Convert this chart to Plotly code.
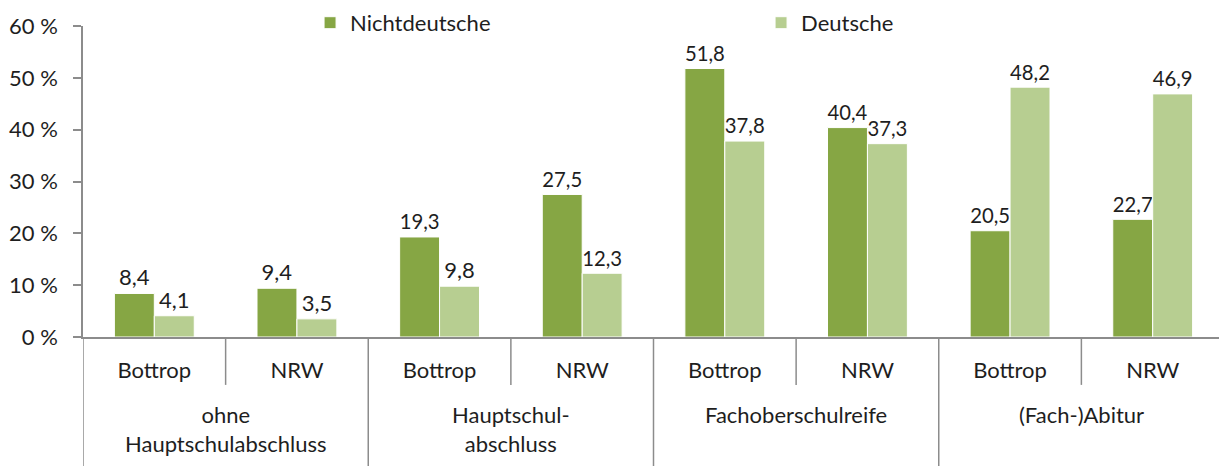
import plotly.graph_objects as go

groups = ["ohne<br>Hauptschulabschluss", "Hauptschul-<br>abschluss",
          "Fachoberschulreife", "(Fach-)Abitur"]
regions = ["Bottrop", "NRW"]
nichtdeutsche = [8.4, 9.4, 19.3, 27.5, 51.8, 40.4, 20.5, 22.7]
deutsche = [4.1, 3.5, 9.8, 12.3, 37.8, 37.3, 48.2, 46.9]
y_ticks = [0, 10, 20, 30, 40, 50, 60]

inner = [r for g in groups for r in regions]
pos = list(range(len(inner)))

def fmt(v):
    return f"{v:.1f}".replace(".", ",")

FONT = "Lato"
FS = 22
TXT = "#1e1e1e"
AX = "#8c8c8c"

fig = go.Figure()
fig.add_trace(go.Bar(x=pos, y=nichtdeutsche, name="Nichtdeutsche",
                     marker=dict(color="#86A644", line=dict(color="white", width=1)),
                     text=[fmt(v) for v in nichtdeutsche], textposition="outside",
                     textfont=dict(size=FS, color=TXT), cliponaxis=False))
fig.add_trace(go.Bar(x=pos, y=deutsche, name="Deutsche",
                     marker=dict(color="#B7CE91", line=dict(color="white", width=1)),
                     text=[fmt(v) for v in deutsche], textposition="outside",
                     textfont=dict(size=FS, color=TXT), cliponaxis=False))

# divider lines of the two-level category axis
n = len(regions)
for i in range(len(inner) + 1):
    xb = i - 0.5
    long_line = (i % n == 0)
    fig.add_shape(type="line", xref="x", yref="paper", x0=xb, x1=xb,
                  y0=0, y1=-0.42 if long_line else -0.154,
                  line=dict(color=AX, width=1.5))

# outer group labels
for gi, g in enumerate(groups):
    fig.add_annotation(x=gi * n + (n - 1) / 2, xref="x", y=-0.198, yref="paper",
                       text=g, showarrow=False, yanchor="top",
                       font=dict(family=FONT, size=FS, color=TXT))

fig.update_layout(
    width=1227, height=466,
    margin=dict(l=75, r=11, t=18, b=137, autoexpand=False),
    paper_bgcolor="white", plot_bgcolor="white",
    font=dict(family=FONT, size=FS, color=TXT),
    barmode="group", bargap=0.44, bargroupgap=0,
    legend=dict(orientation="h", x=0.199, y=1.01, xanchor="left", yanchor="middle",
                entrywidth=406, entrywidthmode="pixels",
                font=dict(size=FS, color=TXT), itemwidth=30),
    showlegend=True,
)
fig.update_yaxes(range=[0, 60], tickvals=y_ticks, ticktext=[f"{v} %" for v in y_ticks],
                 showgrid=False, showline=True, linecolor=AX, linewidth=1.5,
                 ticks="outside", ticklen=8, tickcolor=AX, tickwidth=1.5,
                 ticklabelstandoff=11, tickfont=dict(size=FS, color=TXT), zeroline=False)
fig.update_xaxes(range=[-0.5, len(inner) - 0.5], tickvals=pos, ticktext=inner,
                 showline=True, linecolor=AX, linewidth=1.5, ticks="",
                 showgrid=False, zeroline=False, ticklabelstandoff=13,
                 tickfont=dict(size=FS, color=TXT))
fig.write_html("out.html")
